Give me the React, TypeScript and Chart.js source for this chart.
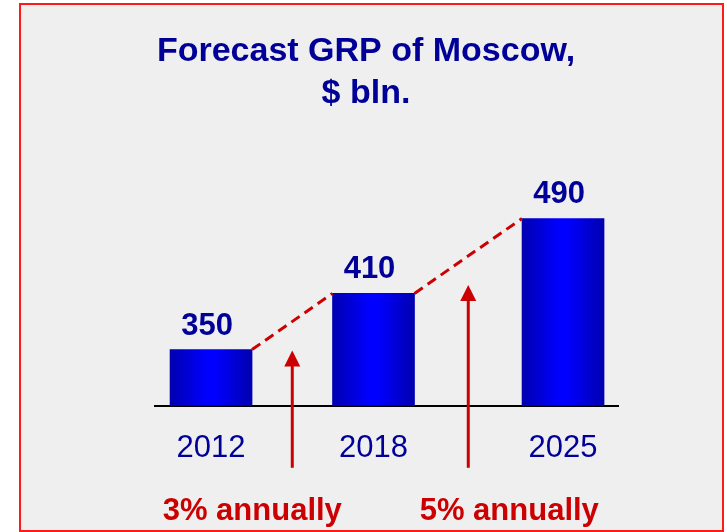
import { useEffect, useRef } from "react";
import { Chart, registerables } from "chart.js";

Chart.register(...registerables);

// ---- data ----
const YEARS = [2012, 2018, 2025];
const VALUES = [350, 410, 490];
const GROWTH_LABELS = ["3% annually", "5% annually"];
const TITLE_LINES = ["Forecast GRP of Moscow,", "$ bln."];

const NAVY = "#000099";
const RED = "#CC0000";
const FONT = "'Liberation Sans', Arial, Helvetica, sans-serif";

const overlayPlugin = {
  id: "overlay",
  beforeDraw(chart: any) {
    const { ctx, width, height } = chart;
    ctx.save();
    ctx.fillStyle = "#ffffff";
    ctx.fillRect(0, 0, width, height);
    ctx.fillStyle = "#EFEFEF";
    ctx.fillRect(20, 4, 703, 527);
    ctx.strokeStyle = "#FF1A1A";
    ctx.lineWidth = 2;
    ctx.strokeRect(20, 4, 703, 527);
    ctx.restore();
  },
  afterDatasetsDraw(chart: any) {
    const { ctx, chartArea } = chart;
    const meta = chart.getDatasetMeta(0);
    const bars = meta.data.map((b: any) => b.getProps(["x", "y", "width"], true));
    ctx.save();

    // value labels
    ctx.fillStyle = NAVY;
    ctx.font = `bold 31px ${FONT}`;
    ctx.textAlign = "center";
    ctx.textBaseline = "alphabetic";
    bars.forEach((b: any, i: number) => {
      ctx.fillText(String(VALUES[i]), b.x - 4, b.y - 15);
    });

    // dashed connectors + arrows + growth labels
    const textOffsets = [-40, 41];
    for (let i = 0; i < bars.length - 1; i++) {
      const a = bars[i];
      const c = bars[i + 1];
      const x1 = a.x + a.width / 2;
      const y1 = a.y;
      const x2 = c.x - c.width / 2;
      const y2 = c.y;
      ctx.strokeStyle = RED;
      ctx.lineWidth = 3;
      ctx.setLineDash([10, 6]);
      ctx.beginPath();
      ctx.moveTo(x1, y1);
      ctx.lineTo(x2, y2);
      ctx.stroke();
      ctx.setLineDash([]);

      const ax = (x1 + x2) / 2;
      const lineY = y1 + ((y2 - y1) * (ax - x1)) / (x2 - x1);
      const tip = lineY + 29;
      const bottom = chartArea.bottom + 62;
      ctx.beginPath();
      ctx.moveTo(ax, bottom);
      ctx.lineTo(ax, tip + 12);
      ctx.stroke();
      ctx.fillStyle = RED;
      ctx.beginPath();
      ctx.moveTo(ax, tip);
      ctx.lineTo(ax - 8, tip + 16);
      ctx.lineTo(ax + 8, tip + 16);
      ctx.closePath();
      ctx.fill();

      ctx.font = `bold 31px ${FONT}`;
      ctx.textAlign = "center";
      ctx.fillText(GROWTH_LABELS[i], ax + textOffsets[i], chartArea.bottom + 114);
    }
    ctx.restore();
  },
};

export default function App() {
  const canvasRef = useRef<HTMLCanvasElement | null>(null);

  useEffect(() => {
    if (!canvasRef.current) return;
    const chart = new Chart(canvasRef.current, {
      type: "bar",
      data: {
        datasets: [
          {
            data: YEARS.map((x, i) => ({ x, y: VALUES[i] })),
            barThickness: 82,
            borderWidth: 0,
            backgroundColor: (c: any) => {
              const ch = c.chart;
              if (!ch.chartArea || c.type !== "data" || !ch.scales.x) return "#0000EE";
              const px = ch.scales.x.getPixelForValue(c.raw.x);
              const g = ch.ctx.createLinearGradient(px - 41, 0, px + 41, 0);
              g.addColorStop(0, "#0000B0");
              g.addColorStop(0.45, "#0000FF");
              g.addColorStop(0.55, "#0000FF");
              g.addColorStop(1, "#0000B0");
              return g;
            },
          } as any,
        ],
      },
      options: {
        animation: false,
        responsive: true,
        maintainAspectRatio: false,
        devicePixelRatio: 1,
        layout: { padding: { left: 114, right: 109, top: 0, bottom: 41 } },
        plugins: {
          legend: { display: false },
          tooltip: { enabled: false },
          title: {
            display: true,
            text: TITLE_LINES,
            color: NAVY,
            font: { family: FONT, size: 34, weight: "bold", lineHeight: 1.25 },
            padding: { top: 30, bottom: 7 },
          },
        },
        scales: {
          x: {
            type: "linear",
            offset: false,
            min: 2009.93,
            max: 2027.03,
            grid: { display: false, drawTicks: false, offset: false },
            border: { display: true, color: "#000000", width: 2 },
            afterBuildTicks: (s: any) => {
              s.ticks = YEARS.map((v) => ({ value: v }));
            },
            ticks: {
              color: NAVY,
              font: { family: FONT, size: 31 },
              padding: 24,
              autoSkip: false,
              maxRotation: 0,
              callback: (v: any) => String(v),
            },
          },
          y: {
            type: "linear",
            min: 290,
            max: 593,
            grid: { display: false },
            border: { display: false },
            ticks: { display: false },
            afterFit: (s: any) => {
              s.width = 41;
            },
          },
        },
      } as any,
      plugins: [overlayPlugin],
    });
    return () => chart.destroy();
  }, []);

  return (
    <div style={{ position: "fixed", left: 0, top: 0, width: 727, height: 532 }}>
      <canvas ref={canvasRef} />
    </div>
  );
}
